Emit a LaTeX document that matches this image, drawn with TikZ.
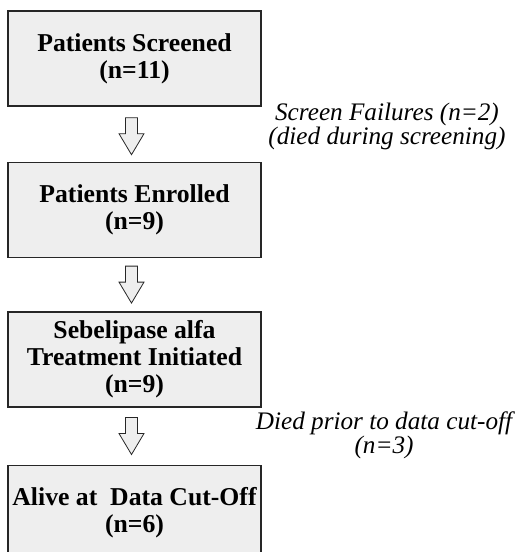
\documentclass[tikz,border=0pt]{standalone}
\usepackage{fontspec}
\setmainfont{Liberation Serif}
\usepackage{tikz}
\usetikzlibrary{positioning,calc}
\definecolor{boxfill}{HTML}{EEEEEE}
\definecolor{boxline}{HTML}{262626}

\begin{document}
\begin{tikzpicture}[x=1bp, y=-1bp,
    stage/.style={rectangle, draw=boxline, fill=boxfill, line width=1.4bp,
                  font=\bfseries\fontsize{25.8}{27}\selectfont, align=center,
                  minimum width=253bp, minimum height=95bp, inner sep=2bp},
    note/.style={font=\itshape\fontsize{25.3}{19.5}\selectfont, align=center,
                  inner sep=0pt},
    blockdown/.pic={
      \draw[draw=boxline, fill=boxfill, line width=0.8bp, line join=miter]
        (-6,-18.5) -- (6,-18.5) -- (6,-2.5) -- (12.5,-2.5) -- (0,18.5)
        -- (-12.5,-2.5) -- (-6,-2.5) -- cycle;
    },
  ]
    \useasboundingbox (0,0) rectangle (518,552);
    \clip (0,0) rectangle (518,552);

    % --- four stages of the flow --------------------------------------------
    \node[stage] (scr) at (134.5,58.5) {Patients Screened\\(n=11)};
    \node[stage, below=55bp of scr] (enr) {Patients Enrolled\\(n=9)};
    \node[stage, below=53bp of enr] (trt) {Sebelipase alfa\\Treatment Initiated\\(n=9)};
    \node[stage, below=57bp of trt] (alv) {Alive at~ Data Cut-Off\\(n=6)};

    % --- block arrows between the stages ------------------------------------
    \pic (a1) at ($(scr.south)!0.5!(enr.north)+(-3,2)$) {blockdown};
    \pic (a2) at ($(enr.south)!0.5!(trt.north)+(-3,0)$) {blockdown};
    \pic (a3) at ($(trt.south)!0.5!(alv.north)+(-3,0)$) {blockdown};

    % --- side notes ---------------------------------------------------------
    \node[note] (fail) at (387,126.5) {Screen Failures (n=2)\\(died during screening)};
    \node[note] (died) at (384,435) {Died prior to data cut-off\\(n=3)};
  \end{tikzpicture}
\end{document}
